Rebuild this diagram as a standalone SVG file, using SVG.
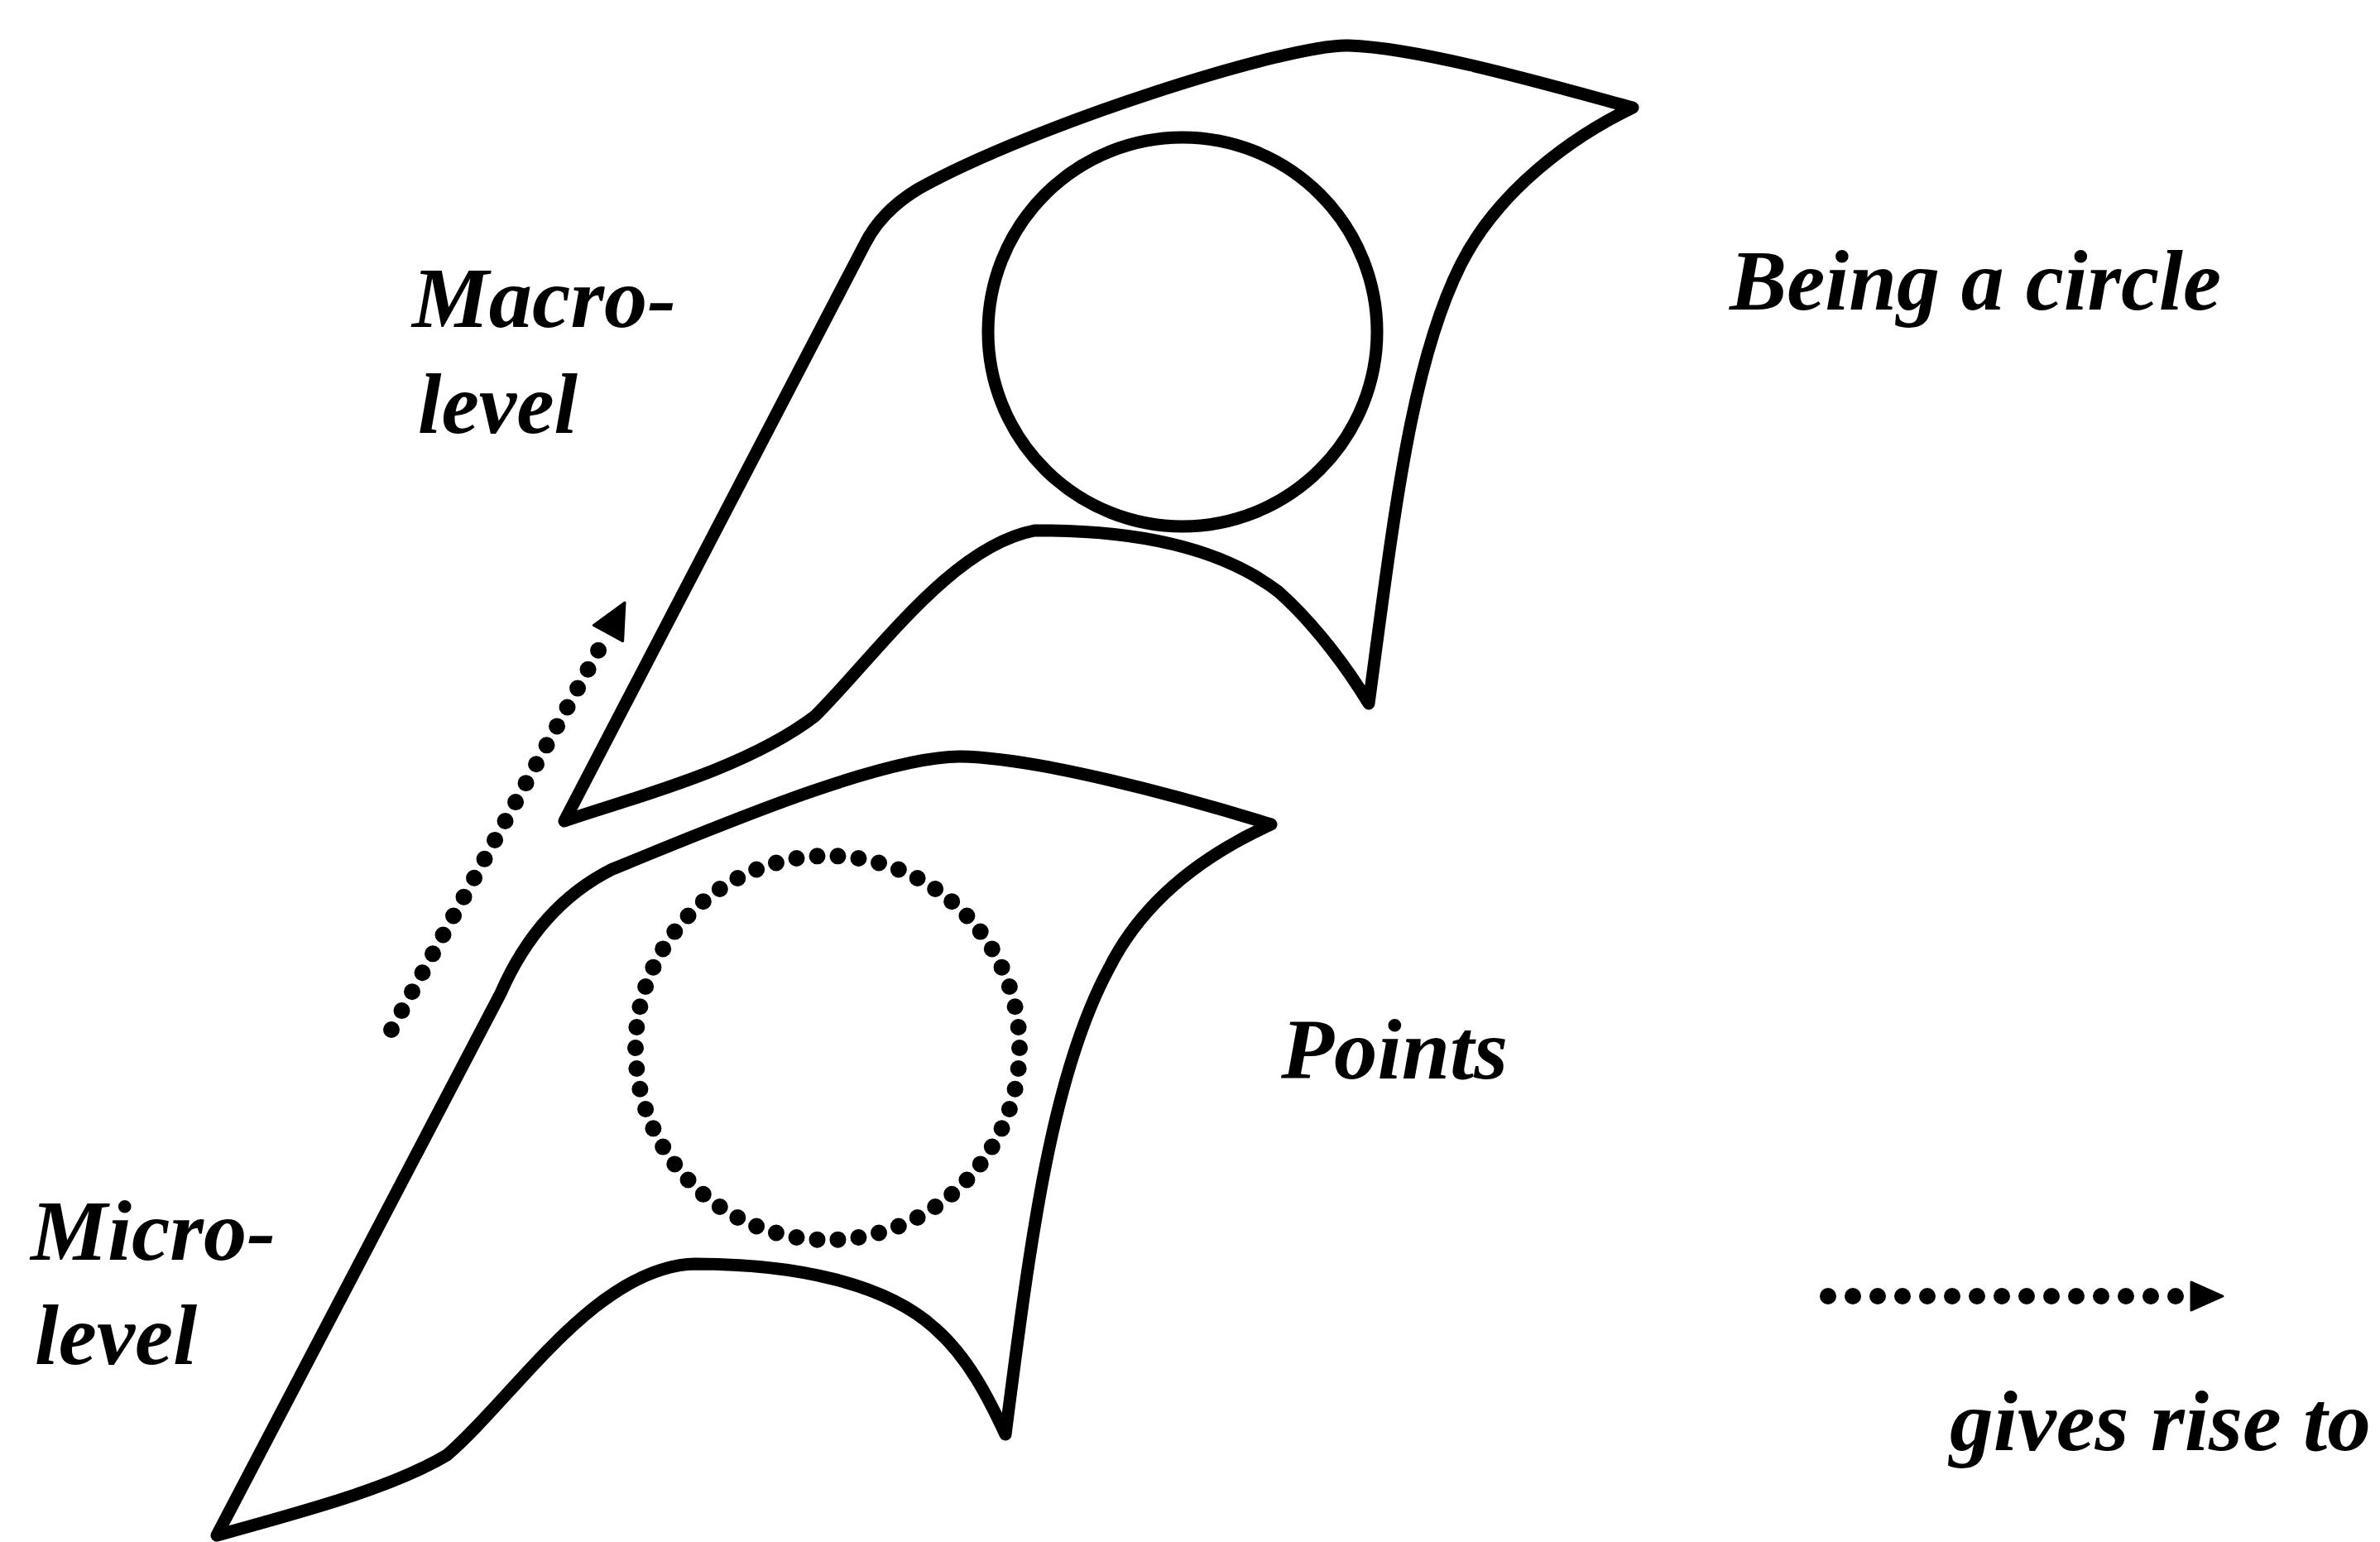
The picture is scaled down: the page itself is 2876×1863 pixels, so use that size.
<svg xmlns="http://www.w3.org/2000/svg" width="2876" height="1863" viewBox="0 0 2876 1863">
<style>
.outline{fill:none;stroke:#000;stroke-width:15;stroke-linejoin:round;stroke-linecap:round}
.dots{fill:none;stroke:#000;stroke-width:20;stroke-linecap:round}
.lbl{font-family:"Liberation Serif","Times New Roman",serif;font-weight:bold;font-style:italic;font-size:104px;fill:#000}
.head{fill:#000;stroke:#000;stroke-width:3;stroke-linejoin:round}
</style>
<rect width="2876" height="1863" fill="#fff"/>
<g id="macro-level-plane">
<path class="outline" d="M1973,130 C1880,105 1720,58 1630,55 C1560,52 1250,150 1110,228 Q1065,255 1045,295 L682,992 C760,965 900,930 985,865 C1060,790 1150,660 1250,641 C1380,640 1480,665 1545,715 C1590,755 1630,810 1654,850 C1685,620 1705,440 1765,320 C1810,230 1900,165 1973,130 Z"/>
<circle class="outline" cx="1429" cy="401" r="235"/>
</g>
<g id="micro-level-plane">
<path class="outline" d="M1536,996 C1420,960 1250,915 1160,914 C1060,914 840,1010 740,1050 C690,1075 640,1120 605,1200 L262,1855 C350,1830 470,1800 540,1758 C620,1690 720,1530 840,1527 C960,1527 1070,1550 1130,1605 C1170,1640 1195,1690 1215,1733 C1245,1500 1270,1300 1340,1170 C1380,1090 1450,1035 1536,996 Z"/>
<circle class="dots" cx="1000" cy="1266" r="232" pathLength="58" stroke-dasharray="0 1" stroke-width="19"/>
</g>
<g id="labels">
<text class="lbl" x="498" y="395" textLength="319" lengthAdjust="spacingAndGlyphs">Macro-</text>
<text class="lbl" x="505" y="523" textLength="193" lengthAdjust="spacingAndGlyphs">level</text>
<text class="lbl" x="2090" y="374" textLength="594" lengthAdjust="spacingAndGlyphs">Being a circle</text>
<text class="lbl" x="1548" y="1303" textLength="274" lengthAdjust="spacingAndGlyphs">Points</text>
<text class="lbl" x="37" y="1522" textLength="296" lengthAdjust="spacingAndGlyphs">Micro-</text>
<text class="lbl" x="42" y="1648" textLength="196" lengthAdjust="spacingAndGlyphs">level</text>
</g>
<g id="connectors">
<path class="dots" d="M473,1244 L723.5,785" stroke-dasharray="0 26.1"/>
<polygon class="head" points="755,728 752.6,774.6 717.4,755.4"/>
</g>
<g id="legend">
<path class="dots" d="M2209,1566 L2630,1566" stroke-dasharray="0 30"/>
<polygon class="head" points="2686,1566 2648,1549 2648,1583"/>
<text class="lbl" x="2356" y="1752" textLength="509" lengthAdjust="spacingAndGlyphs">gives rise to</text>
</g>
</svg>
